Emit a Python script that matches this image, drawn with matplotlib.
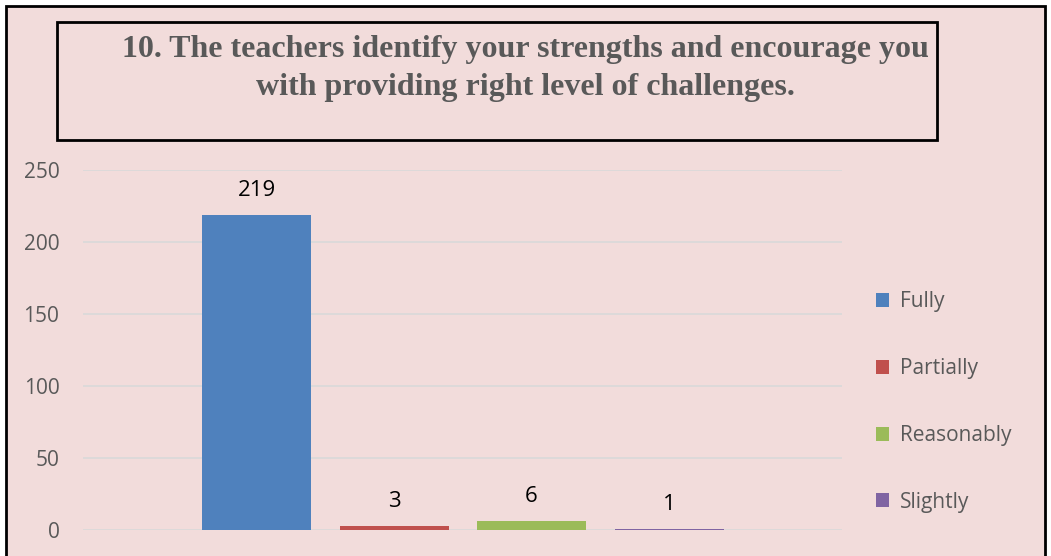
import matplotlib
matplotlib.use("Agg")
import matplotlib.pyplot as plt
from matplotlib.patches import Rectangle, Patch

categories = ["Fully", "Partially", "Reasonably", "Slightly"]
values = [219, 3, 6, 1]
colors = ["#4F81BD", "#C0504D", "#9BBB59", "#8064A2"]
yticks = [0, 50, 100, 150, 200, 250]
title = "10. The teachers identify your strengths and encourage you\nwith providing right level of challenges."

W, H = 1051, 556
fig = plt.figure(figsize=(W / 100, H / 100), dpi=100)
fig.patch.set_facecolor("white")
bg = "#F2DCDB"
fig.patches.append(Rectangle((6 / W, -0.1), (1045 - 6) / W, (H - 6) / H + 0.1,
                             transform=fig.transFigure, facecolor=bg,
                             edgecolor="black", linewidth=2, zorder=-10))

ax = fig.add_axes([83 / W, (H - 530) / H, (842 - 83) / W, (530 - 170) / H])
ax.set_facecolor("none")
x = list(range(len(values)))
ax.bar(x, values, width=0.793, color=colors, zorder=3)
for xi, v in zip(x, values):
    ax.annotate(str(v), (xi, v), xytext=(0, 10), textcoords="offset points",
                ha="center", va="bottom", fontsize=16, color="black",
                family="Open Sans")
ax.set_xlim(-1.262, 4.258)
ax.set_ylim(0, 250)
ax.set_yticks(yticks)
ax.set_yticklabels([str(t) for t in yticks], fontsize=15, color="#595959",
                   family="Open Sans")
ax.set_xticks([])
ax.grid(axis="y", color="#D9D9D9", linewidth=1.2, zorder=0)
for s in ax.spines.values():
    s.set_visible(False)
ax.tick_params(axis="y", length=0, pad=17)

handles = [Patch(facecolor=c, label=l) for c, l in zip(colors, categories)]
leg = fig.legend(handles=handles, loc="center left",
                 bbox_to_anchor=(857 / W, (H - 402) / H), frameon=False,
                 prop={"family": "Open Sans", "size": 15},
                 labelcolor="#595959", handlelength=0.65, handleheight=0.65,
                 handletextpad=0.5, labelspacing=2.2)

# title box
fig.patches.append(Rectangle((57 / W, (H - 140) / H), (937 - 57) / W, (140 - 22) / H,
                             transform=fig.transFigure, facecolor="none",
                             edgecolor="black", linewidth=2, zorder=5))
fig.text(525 / W, (H - 68.5) / H, title, ha="center", va="center",
         fontsize=23, fontweight="bold", color="#595959",
         family="Liberation Serif", linespacing=1.42)

fig.savefig("out.png", dpi=100, facecolor=fig.get_facecolor())
